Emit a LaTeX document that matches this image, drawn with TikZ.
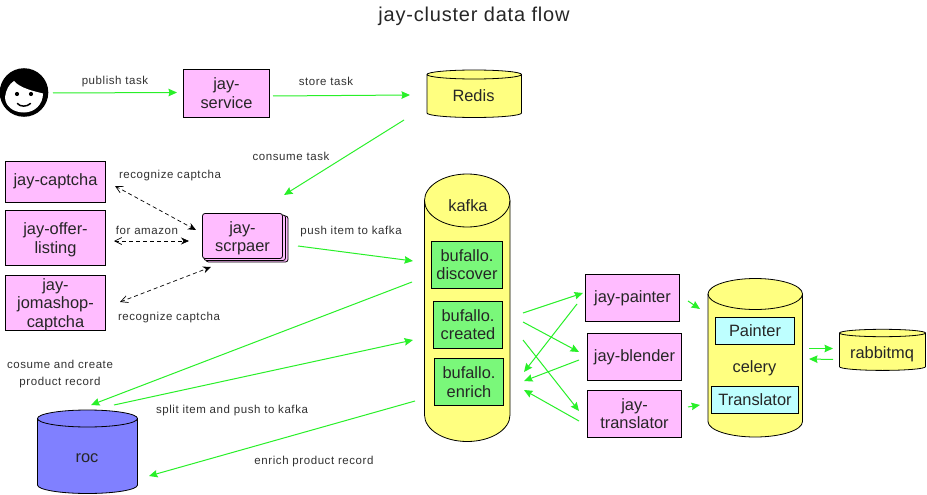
\documentclass[tikz,border=0pt]{standalone}
\usepackage{fontspec}
\setmainfont{Liberation Sans}
\newfontfamily\spacedfont[LetterSpace=5]{Liberation Sans}
\newfontfamily\titlefont[LetterSpace=4]{Liberation Sans}
\usetikzlibrary{arrows.meta}
\definecolor{pinkbox}{RGB}{255,188,255}
\definecolor{yel}{RGB}{255,255,128}
\definecolor{grn}{RGB}{122,248,122}
\definecolor{cyanbox}{RGB}{190,255,255}
\definecolor{blu}{RGB}{128,128,255}
\definecolor{flow}{RGB}{40,240,40}
\definecolor{lbl}{RGB}{50,50,50}
\tikzset{
 x=1pt,y=-1pt,
 flowline/.style={draw=flow,line width=1pt,-{Stealth[length=8.5pt,width=7.5pt,inset=1pt]}},
 dashline/.style={draw=black,line width=0.7pt,dash pattern=on 4pt off 3pt,{Straight Barb[length=7pt,width=7pt]}-{Stealth[length=8pt,width=7pt]}},
 lab/.style={font=\spacedfont\fontsize{11.5}{17}\selectfont,text=lbl,align=center,inner sep=0pt},
 boxtxt/.style={font=\fontsize{16.4}{18.5}\selectfont,align=center,inner sep=0pt,text=black!85},
 pinkb/.style={draw=black,line width=0.8pt,fill=pinkbox},
 greenb/.style={draw=black,line width=0.8pt,fill=grn},
 cyanb/.style={draw=black,line width=0.8pt,fill=cyanbox},
 cylout/.style={draw=black,line width=0.8pt},
}
% #1 name, #2 fill, #3 left, #4 right, #5 ellipse centre top, #6 ry, #7 centre bottom
\newcommand{\mycyl}[7]{%
 \pgfmathsetmacro{\rxx}{(#4-#3)/2}%
 \pgfmathsetmacro{\cxx}{(#4+#3)/2}%
 \path[cylout,fill=#2] (#3,#5) -- (#3,#7) arc[start angle=180,end angle=360,x radius=\rxx,y radius=-#6] -- (#4,#5) arc[start angle=0,end angle=180,x radius=\rxx,y radius=-#6] -- cycle;
 \path[cylout] (#3,#5) arc[start angle=180,end angle=360,x radius=\rxx,y radius=-#6];
 \coordinate (#1) at (\cxx,#5);
}
\newcommand{\mybox}[7]{% name style x1 y1 x2 y2 text
 \pgfmathsetmacro{\wxx}{#5-#3}\pgfmathsetmacro{\hxx}{#6-#4}%
 \node[#2,boxtxt,minimum width=\wxx pt,minimum height=\hxx pt,anchor=center] (#1) at ({(#3+#5)/2},{(#4+#6)/2}) {#7};
}
\newcommand{\lowered}[1]{\raisebox{-1.5pt}{#1}}
\newcommand{\topgap}{\rule{0pt}{16pt}}
\begin{document}
\begin{tikzpicture}
\useasboundingbox (0,0) rectangle (927,495);
\fill[white] (0,0) rectangle (927,495);
\node[font=\titlefont\fontsize{20}{22}\selectfont,text=black!85,inner sep=0pt] (title) at (474,16) {jay-cluster data flow};

% person
\fill[black] (24,92.5) circle[radius=24.3];
\fill[white] (5,97) .. controls (6,90) and (9,84) .. (14,81) .. controls (20,88) and (33,91) .. (43,93.5) .. controls (43,104) and (35,112.5) .. (24,112.5) .. controls (13,112.5) and (5,106) .. (5,97) -- cycle;
\fill[black] (17,94) circle[radius=2.1];
\fill[black] (31,94) circle[radius=2.1];
\draw[black,line width=1.5pt,line cap=round] (17.5,103.5) .. controls (20,107) and (27,107) .. (30.5,103.5);
\coordinate (personout) at (53,93);
\coordinate (servicein) at (177,92.5);

\mybox{service}{pinkb}{183.5}{69.5}{269.5}{117}{jay-\\service}
\mybox{captcha}{pinkb}{5.5}{161.5}{105.5}{202}{\lowered{jay-captcha}}
\mybox{offer}{pinkb}{5.5}{210.5}{105.5}{265}{\topgap jay-offer-\\listing}
\mybox{joma}{pinkb}{5.5}{275.5}{105.5}{330}{}
\node[boxtxt] (jomalabel) at (55.5,304.5) {jay-\\jomashop-\\captcha};

% stacked scraper
\draw[pinkb,rounded corners=2.5pt] (206,216) rectangle (288,262);
\draw[pinkb,rounded corners=2.5pt] (204,215) rectangle (285.5,260.5);
\mybox{scraper}{pinkb,rounded corners=2.5pt}{202.5}{213.5}{282.5}{258.5}{\topgap jay-\\scrpaer}

\mycyl{redis}{yel}{427}{521.5}{74.5}{4.5}{113}
\node[boxtxt] (redislabel) at (473.5,96) {Redis};
\mycyl{kafka}{yel}{424.5}{510}{200.5}{26.5}{415}
\node[boxtxt] (kafkalabel) at (468,205.5) {kafka};
\mybox{discover}{greenb}{431.5}{241}{502.5}{288}{bufallo.\\discover}
\mybox{created}{greenb}{433.5}{301.5}{502.5}{348}{bufallo.\\created}
\mybox{enrich}{greenb}{434.5}{358.5}{503.5}{405.5}{bufallo.\\enrich}

\mybox{painter}{pinkb}{585.5}{274.5}{679.5}{321.5}{\lowered{jay-painter}}
\mybox{blender}{pinkb}{587.5}{333.5}{681.5}{380.5}{\lowered{jay-blender}}
\mybox{translator}{pinkb}{587.5}{390.5}{681.5}{437}{jay-\\translator}

\mycyl{celery}{yel}{708}{802.5}{294}{15.5}{421.5}
\node[boxtxt] (celerylabel) at (754.5,368) {celery};
\mybox{cpainter}{cyanb}{715.5}{317.5}{794.5}{344.5}{Painter}
\mybox{ctranslator}{cyanb}{711.5}{386.5}{798.5}{413.5}{Translator}

\mycyl{rabbit}{yel}{839.5}{925.5}{333}{3.7}{366.7}
\node[boxtxt] (rabbitlabel) at (882,354.5) {rabbitmq};

\mycyl{roc}{blu}{37.5}{137.5}{418.5}{8.5}{485}
\node[boxtxt] (roclabel) at (87,458) {roc};

% free ends of the connectors
\foreach \n/\x/\y in {
 sa/273/96, sb/410/95, ra/404/120, rb/284/195, pa/298/246, pb/413/261,
 ca/115/186, cb/196/230, oa/114/241, ob/189/241, ja/120/302, jb/211/267,
 ka/412/282, kb/91/405, la/114/405, lb/413/340, ma/415/401, mb/149/476,
 na/523/313, nb/583/293, qa/523/322, qb/579/352, ta/523/340, tb/579/411,
 ua/577/304, ub/524/372, va/579/360, vb/524/381, wa/579/421, wb/524/390,
 xa/688/301, xb/700/309, ya/688/407, yb/700/405,
 za/809/348.5, zb/833/348.5, aa/833/359.5, ab/809/359}
 {\coordinate (\n) at (\x,\y);}

\draw[flowline] (personout) -- (servicein);
\draw[flowline] (sa) -- (sb);
\draw[flowline] (ra) -- (rb);
\draw[flowline] (pa) -- (pb);
\draw[flowline] (ka) -- (kb);
\draw[flowline] (la) -- (lb);
\draw[flowline] (ma) -- (mb);
\draw[flowline] (na) -- (nb);
\draw[flowline] (qa) -- (qb);
\draw[flowline] (ta) -- (tb);
\draw[flowline] (ua) -- (ub);
\draw[flowline] (va) -- (vb);
\draw[flowline] (wa) -- (wb);
\draw[flowline] (xa) -- (xb);
\draw[flowline] (ya) -- (yb);
\draw[flowline] (za) -- (zb);
\draw[flowline] (aa) -- (ab);
\draw[dashline] (ca) -- (cb);
\draw[dashline] (oa) -- (ob);
\draw[dashline] (ja) -- (jb);

% labels
\node[lab] (l1) at (115,82) {publish task};
\node[lab] (l2) at (326,81) {store task};
\node[lab] (l3) at (291,156.5) {consume task};
\node[lab] (l4) at (170,175.5) {recognize captcha};
\node[lab] (l5) at (147,230.5) {for amazon};
\node[lab] (l6) at (169,317.5) {recognize captcha};
\node[lab] (l7) at (351,231.5) {push item to kafka};
\node[lab] (l8) at (60,374.5) {cosume and create\\product record};
\node[lab] (l9) at (232,410.5) {split item and push to kafka};
\node[lab] (l10) at (314,461.5) {enrich product record};
\end{tikzpicture}
\end{document}
